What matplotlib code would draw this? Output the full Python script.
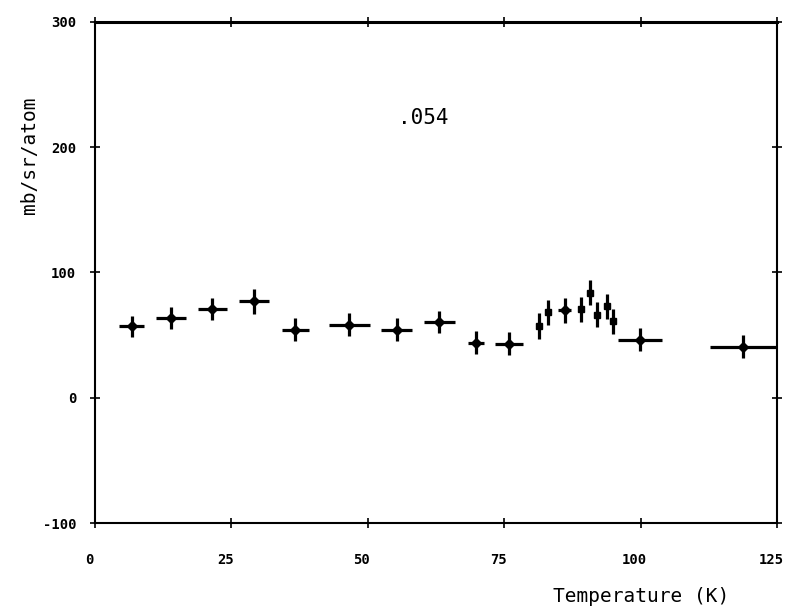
import matplotlib
matplotlib.use("Agg")
import matplotlib.pyplot as plt
import matplotlib.transforms as mtransforms

plt.rcParams["axes.unicode_minus"] = False

# measured points (temperature in K, cross section in mb/sr/atom)
temps = [6.7, 13.9, 21.5, 29.1, 36.7, 46.6, 55.3, 63.1, 69.8, 75.9,
         81.3, 83.1, 86.1, 89.1, 90.7, 92.0, 93.8, 94.9, 99.9, 118.8]
values = [56.9, 63.6, 70.8, 76.9, 54.3, 58.3, 54.3, 60.4, 44.1, 43.1,
          57.5, 68.1, 69.7, 70.8, 84.0, 66.2, 72.9, 60.9, 46.3, 40.9]
temp_err = [2.3, 2.7, 2.6, 2.8, 2.5, 3.8, 2.8, 2.9, 1.4, 2.6,
            0.0, 0.0, 1.2, 0.0, 0.0, 0.0, 0.0, 0.0, 4.0, 6.0]
value_err = [8.6, 8.8, 9.0, 10.0, 9.0, 9.0, 9.0, 9.0, 9.0, 9.0,
             10.5, 10.0, 10.0, 10.0, 10.0, 10.0, 10.0, 10.0, 9.0, 9.0]
# points drawn with square symbols (the fine scan near 90 K)
square_idx = [10, 11, 13, 14, 15, 16, 17]

x_ticks = [0, 25, 50, 75, 100, 125]
y_ticks = [-100, 0, 100, 200, 300]
label_text = ".054"

mono = "DejaVu Sans Mono"

fig = plt.figure(figsize=(7.99, 6.09), dpi=100)
ax = fig.add_axes([0.119, 0.1412, 0.8535, 0.8227])

ax.errorbar(temps, values, xerr=temp_err, yerr=value_err, fmt="none",
            ecolor="black", elinewidth=2.3, capsize=0)

diam_t = [t for i, t in enumerate(temps) if i not in square_idx]
diam_v = [v for i, v in enumerate(values) if i not in square_idx]
sq_t = [temps[i] for i in square_idx]
sq_v = [values[i] for i in square_idx]
ax.plot(diam_t, diam_v, "D", color="black", markersize=5)
ax.plot(sq_t, sq_v, "s", color="black", markersize=5)

ax.text(55.5, 223, label_text, fontsize=15, family=mono, va="center")

ax.set_xlim(0, 125)
ax.set_ylim(-100, 300)
ax.set_xticks(x_ticks)
ax.set_yticks(y_ticks)
ax.tick_params(direction="inout", length=7, width=1.2, top=True, right=True,
               labelsize=10)
ax.tick_params(axis="x", pad=18)
ax.tick_params(axis="y", pad=10)
for lab in ax.get_xticklabels() + ax.get_yticklabels():
    lab.set_family(mono)
    lab.set_fontweight("bold")
shift = mtransforms.ScaledTranslation(-6 / 100, 0, fig.dpi_scale_trans)
for lab in ax.get_xticklabels():
    lab.set_transform(lab.get_transform() + shift)

for side in ["left", "right", "bottom"]:
    ax.spines[side].set_linewidth(1.5)
ax.spines["top"].set_linewidth(2.2)

ax.set_ylabel("mb/sr/atom", family=mono, fontsize=14)
ax.yaxis.set_label_coords(-0.082, 0.735)
fig.text(641 / 799, 1 - 596 / 609, "Temperature (K)", family=mono,
         fontsize=14, ha="center", va="center")

fig.savefig("out.png", dpi=100)
